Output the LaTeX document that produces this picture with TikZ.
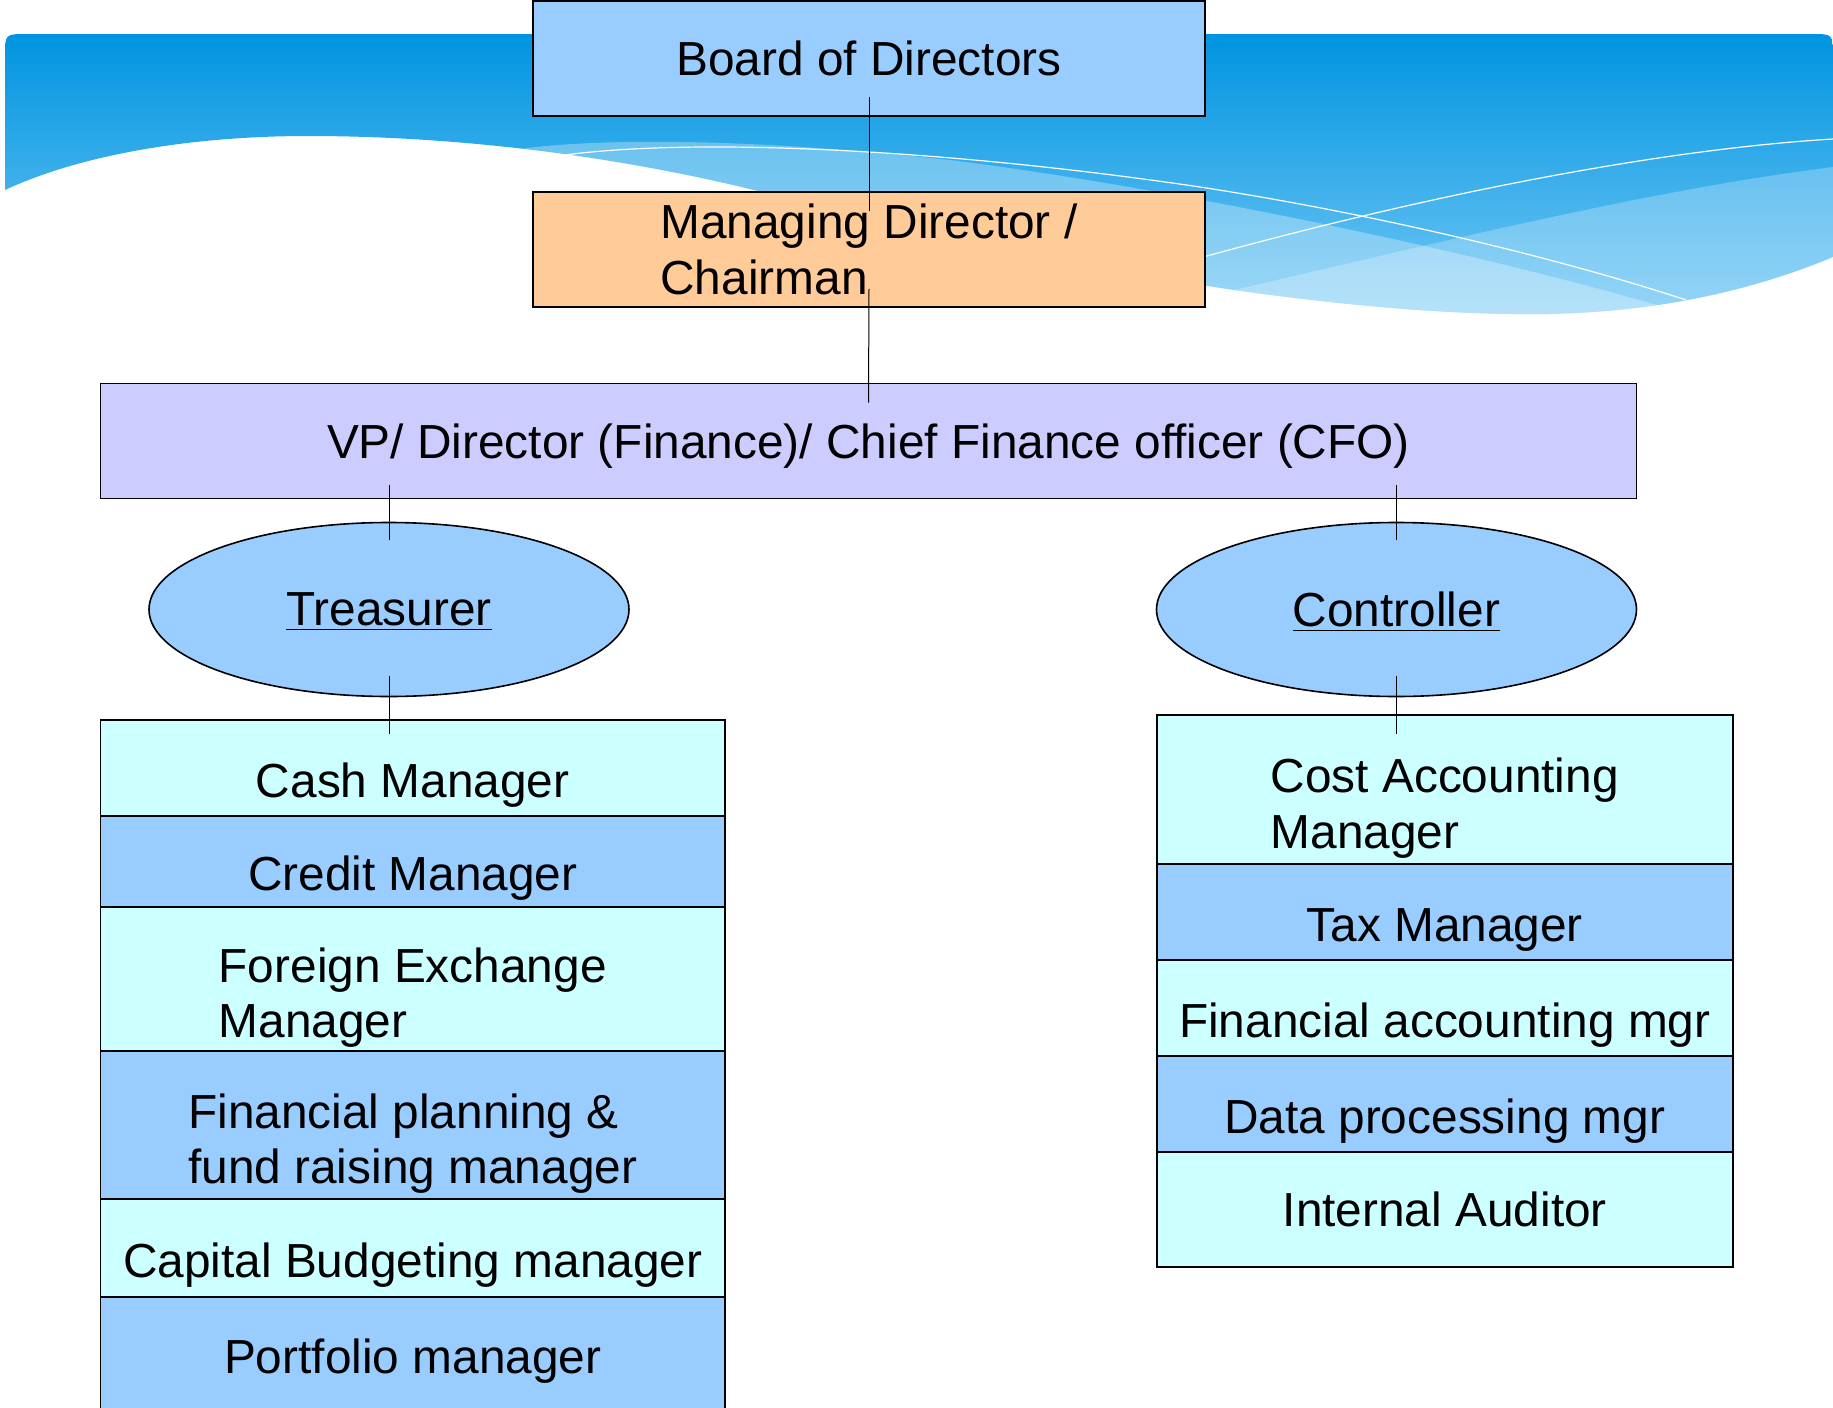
\documentclass[tikz,border=0pt]{standalone}
\usepackage{xcolor}
\usepackage{fontspec}
\setmainfont{Liberation Sans}
\usetikzlibrary{positioning,shapes.geometric}

\definecolor{azulcaja}{HTML}{99CCFF}
\definecolor{durazno}{HTML}{FFCC99}
\definecolor{lavanda}{HTML}{CCCCFF}
\definecolor{celeste}{HTML}{CCFFFF}
\definecolor{cieloA}{RGB}{0,148,224}
\definecolor{cieloB}{RGB}{115,200,245}

\begin{document}
\begin{tikzpicture}[x=0.5pt,y=-0.5pt,
        font=\fontsize{23.9pt}{27.8pt}\selectfont,
        caja/.style={draw,line width=0.8pt,minimum width=336pt,minimum height=57.5pt,align=left},
        elipse/.style={ellipse,draw,line width=0.8pt,fill=azulcaja,minimum width=240pt,minimum height=87pt,text depth=0pt},
        puesto/.style={draw,line width=0.9pt,outer sep=0pt,inner sep=0pt,text height=29pt,text depth=0pt},
        doble/.style={align=left,text height=58.8pt,text depth=0pt},
        centrado/.style={text height=17.3pt},
        izq/.style={puesto,minimum width=312.25pt},
        der/.style={puesto,minimum width=288.2pt},
        conector/.style={line width=0.5pt},
        node distance=0pt]
        \useasboundingbox (0,0) rectangle (1833,1408);
        \fill[white] (0,0) rectangle (1833,1408);

        % Paso 1: Fondo degradado de la cabecera
        \shade[top color=cieloA,bottom color=cieloB]
            (5,190) -- (5,56) .. controls (5,34) .. (27,34) -- (1811,34)
            .. controls (1833,34) .. (1833,56) -- (1833,257)
            .. controls (1730,300) and (1620,316) .. (1514,314)
            .. controls (1420,313) and (1320,302) .. (1234,290)
            .. controls (1050,262) and (900,226) .. (754,190)
            .. controls (640,162) and (480,136) .. (308,136)
            .. controls (190,136) and (80,155) .. (5,190) -- cycle;

        % Paso 2: Bandas claras y curvas blancas
        \fill[white,opacity=0.3]
            (520,149) .. controls (600,138) and (750,138) .. (950,160)
            .. controls (1150,185) and (1450,245) .. (1660,306)
            .. controls (1600,315) and (1560,315) .. (1514,314)
            .. controls (1420,313) and (1320,302) .. (1234,290)
            .. controls (1050,262) and (900,226) .. (754,190)
            .. controls (680,172) and (600,158) .. (520,149) -- cycle;
        \fill[white,opacity=0.25]
            (1234,290) .. controls (1450,240) and (1650,190) .. (1833,167)
            -- (1833,257) .. controls (1730,300) and (1620,316) .. (1514,314)
            .. controls (1420,313) and (1320,302) .. (1234,290) -- cycle;
        \draw[white,line width=0.6pt] (565,155) .. controls (700,137) and (950,150) .. (1200,187)
            .. controls (1400,218) and (1580,265) .. (1686,300);
        \draw[white,line width=0.6pt] (1150,272) .. controls (1400,200) and (1650,150) .. (1833,139);

        % Paso 3: Cajas de la direccion
        \node[caja,fill=azulcaja] (bod) at (869,58.5) {Board of Directors};
        \node[caja,fill=durazno] (md) at (869,249.5) {Managing Director /\\Chairman};
        \node[caja,fill=lavanda,minimum width=768pt,text depth=0pt] (vp) at (868.5,441)
            {VP/ Director (Finance)/ Chief Finance officer (CFO)};

        % Paso 4: Elipses de tesoreria y contraloria
        \node[elipse] (tesorero) at (389,609.5) {\underline{Treasurer}};
        \node[elipse] (contralor) at (1396.5,609.5) {\underline{Controller}};

        % Paso 5: Puestos bajo el tesorero
        \node[izq,fill=celeste,minimum height=48pt,anchor=north] (cash) at (412.75,720) {Cash Manager};
        \node[izq,fill=azulcaja,minimum height=45.5pt,below=of cash] (credit) {Credit Manager};
        \node[izq,doble,fill=celeste,minimum height=72pt,below=of credit] (foreign) {Foreign Exchange\\Manager};
        \node[izq,doble,fill=azulcaja,minimum height=74pt,below=of foreign] (planning) {Financial planning \&\\fund raising manager};
        \node[izq,fill=celeste,minimum height=49pt,below=of planning] (capital) {Capital Budgeting manager};
        \node[izq,centrado,fill=azulcaja,minimum height=59.5pt,below=of capital] (portfolio) {Portfolio manager};

        % Paso 6: Puestos bajo el contralor
        \node[der,doble,fill=celeste,minimum height=74.5pt,anchor=north] (costo) at (1444.8,715) {Cost Accounting\\Manager};
        \node[der,fill=azulcaja,minimum height=48pt,below=of costo] (tax) {Tax Manager};
        \node[der,fill=celeste,minimum height=48pt,below=of tax] (finacc) {Financial accounting mgr};
        \node[der,fill=azulcaja,minimum height=48pt,below=of finacc] (data) {Data processing mgr};
        \node[der,centrado,fill=celeste,minimum height=57.5pt,below=of data] (auditor) {Internal Auditor};

        % Paso 7: Conectores
        \draw[conector] ([yshift=10pt]bod.south) -- ([yshift=-10pt]md.north);
        \draw[conector] ([yshift=9.5pt]md.south) -- ([yshift=-10pt]vp.north);
        \draw[conector] ([yshift=7pt]tesorero.north |- vp.south) -- ([yshift=-9pt]tesorero.north);
        \draw[conector] ([yshift=7pt]contralor.north |- vp.south) -- ([yshift=-9pt]contralor.north);
        \draw[conector] ([yshift=10.5pt]tesorero.south) -- ([yshift=-7pt]tesorero.south |- cash.north);
        \draw[conector] ([yshift=10.5pt]contralor.south) -- ([yshift=-9.5pt]contralor.south |- costo.north);
\end{tikzpicture}
\end{document}
